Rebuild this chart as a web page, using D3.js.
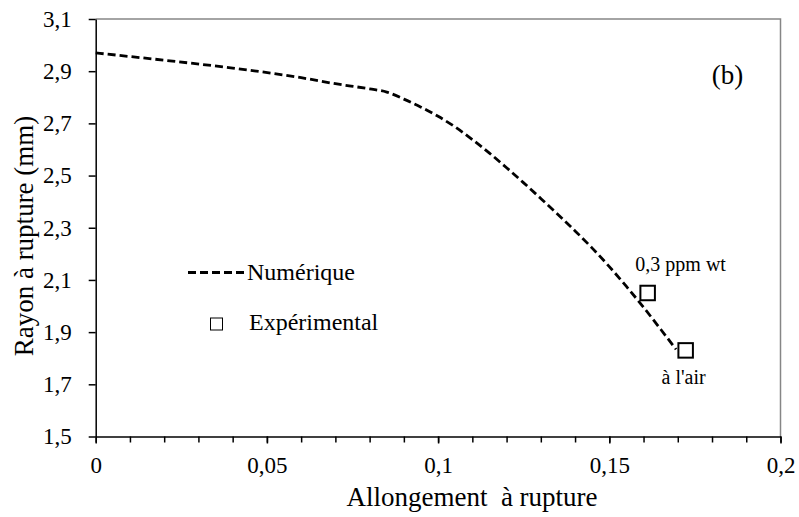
<!DOCTYPE html>
<html>
<head>
<meta charset="utf-8">
<script src="https://cdn.jsdelivr.net/npm/d3@7"></script>
</head>
<body style="margin:0">
<script>
/* DATA */
// numerical curve : elongation at rupture vs radius at rupture
const strain = [0, 0.02, 0.04, 0.06, 0.07, 0.08, 0.085, 0.09, 0.095, 0.1, 0.105, 0.11, 0.115,
  0.12, 0.125, 0.13, 0.135, 0.14, 0.145, 0.15, 0.155, 0.16, 0.165, 0.1695];
const radius = [2.97, 2.942, 2.912, 2.875, 2.852, 2.832, 2.82, 2.793, 2.762, 2.727, 2.686, 2.638, 2.586,
  2.530, 2.472, 2.412, 2.351, 2.288, 2.222, 2.151, 2.075, 1.995, 1.911, 1.834];
// experimental points
const expStrain = [0.1612, 0.1723];
const expRadius = [2.05, 1.83];
const expLabels = ["0,3 ppm wt", "à l'air"];
// ticks
const xTicks = [0, 0.05, 0.1, 0.15, 0.2];
const xMinorTicks = d3.range(0, 21).map(i => i / 100);
const yTicks = [1.5, 1.7, 1.9, 2.1, 2.3, 2.5, 2.7, 2.9, 3.1];
const legendLabels = ["Numérique", "Expérimental"];

/* CONSTANTS */
const width = 799, height = 517;
const margin = { top: 19, bottom: 80.5, left: 95.7, right: 18.5 };
const comma = d => String(d).replace(".", ",");

const svg = d3.select("body").append("svg")
  .attr("width", width).attr("height", height);

/* SCALES */
const xScale = d3.scaleLinear().domain([0, 0.2]).range([margin.left, width - margin.right]);
const yScale = d3.scaleLinear().domain([1.5, 3.1]).range([height - margin.bottom, margin.top]);

// top and right frame (grey)
svg.append("path")
  .attr("d", `M${xScale(0)},${yScale(3.1)}H${xScale(0.2)}V${yScale(1.5)}`)
  .attr("fill", "none").attr("stroke", "#868686").attr("stroke-width", 1.5);

/* AXES */
const xMinor = svg.append("g")
  .attr("transform", `translate(0,${yScale(1.5)})`)
  .call(d3.axisBottom(xScale).tickValues(xMinorTicks).tickFormat("").tickSize(6).tickSizeOuter(0));
xMinor.select(".domain").remove();

const xAxis = svg.append("g")
  .attr("transform", `translate(0,${yScale(1.5)})`)
  .call(d3.axisBottom(xScale).tickValues(xTicks).tickFormat(comma).tickSize(7).tickSizeOuter(0).tickPadding(13));

const yAxis = svg.append("g")
  .attr("transform", `translate(${xScale(0)},0)`)
  .call(d3.axisLeft(yScale).tickValues(yTicks).tickFormat(d => comma(d3.format(".1f")(d))).tickSize(7).tickSizeOuter(0).tickPadding(17));

svg.selectAll("g").attr("font-family", null).attr("font-size", null);
svg.selectAll(".tick text")
  .attr("font-size", 23)
  .style("font-family", "Liberation Serif");
svg.selectAll(".domain, .tick line").attr("stroke", "#000").attr("stroke-width", 1.5);

// axis titles
svg.append("text")
  .attr("x", 472).attr("y", 506)
  .attr("text-anchor", "middle")
  .attr("font-size", 27)
  .style("font-family", "Liberation Serif")
  .style("white-space", "pre")
  .text("Allongement  à rupture");

svg.append("text")
  .attr("transform", "translate(33,236) rotate(-90)")
  .attr("text-anchor", "middle")
  .attr("font-size", 27)
  .style("font-family", "Liberation Serif")
  .text("Rayon à rupture (mm)");

/* CURVE */
const line = d3.line()
  .x((d, i) => xScale(strain[i]))
  .y(d => yScale(d))
  .curve(d3.curveMonotoneX);

svg.append("path")
  .datum(radius)
  .attr("d", line)
  .attr("fill", "none")
  .attr("stroke", "#000")
  .attr("stroke-width", 2.8)
  .attr("stroke-dasharray", "8,4");

/* EXPERIMENTAL POINTS */
const sq = 14.5;
svg.selectAll("rect.exp")
  .data(expStrain)
  .join("rect")
  .attr("class", "exp")
  .attr("x", d => xScale(d) - sq / 2)
  .attr("y", (d, i) => yScale(expRadius[i]) - sq / 2)
  .attr("width", sq).attr("height", sq)
  .attr("fill", "#fff").attr("stroke", "#000").attr("stroke-width", 2);

svg.selectAll("text.explabel")
  .data(expLabels)
  .join("text")
  .attr("class", "explabel")
  .attr("x", (d, i) => xScale(expStrain[i]) + (i === 0 ? 33 : -2))
  .attr("y", (d, i) => yScale(expRadius[i]) + (i === 0 ? -22 : 34))
  .attr("text-anchor", "middle")
  .attr("font-size", 20)
  .style("font-family", "Liberation Serif")
  .text(d => d);

/* LEGEND */
svg.append("line")
  .attr("x1", 188).attr("x2", 245).attr("y1", 272.5).attr("y2", 272.5)
  .attr("stroke", "#000").attr("stroke-width", 2.8).attr("stroke-dasharray", "8,4");
svg.append("text").attr("x", 247).attr("y", 280)
  .attr("font-size", 24)
  .style("font-family", "Liberation Serif")
  .text(legendLabels[0]);

svg.append("rect")
  .attr("x", 210.5).attr("y", 318).attr("width", 12).attr("height", 12)
  .attr("fill", "#fff").attr("stroke", "#000").attr("stroke-width", 1);
svg.append("text").attr("x", 249).attr("y", 330)
  .attr("font-size", 24)
  .style("font-family", "Liberation Serif")
  .text(legendLabels[1]);

// panel label
svg.append("text")
  .attr("x", 727.5).attr("y", 84)
  .attr("text-anchor", "middle")
  .attr("font-size", 27)
  .style("font-family", "Liberation Serif")
  .text("(b)");
</script>
</body>
</html>
